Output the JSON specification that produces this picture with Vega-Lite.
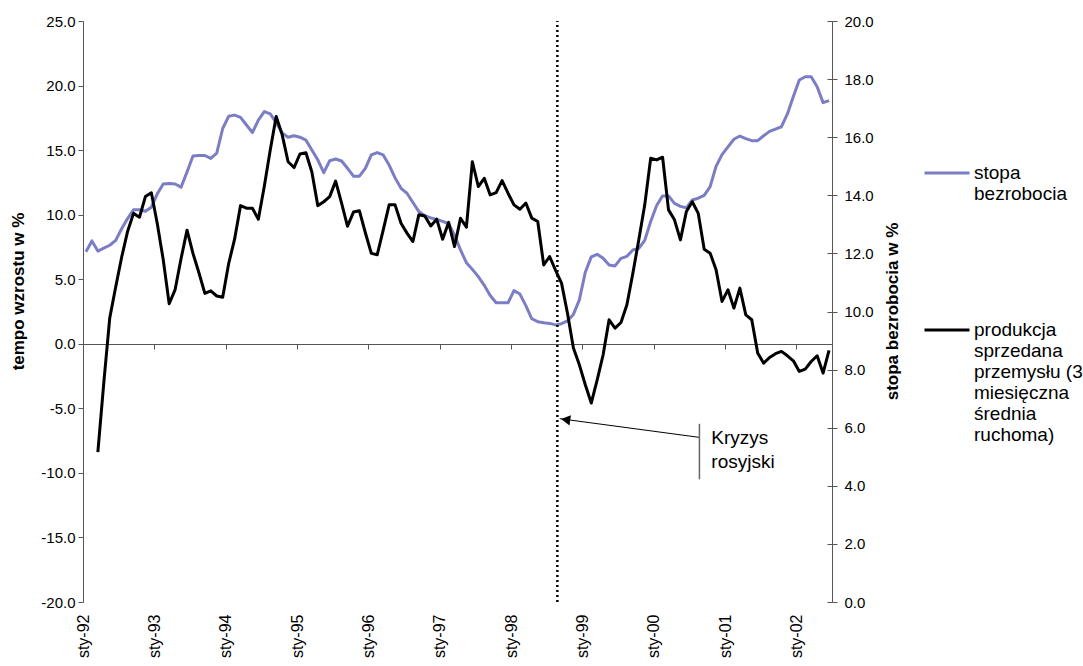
{
  "$schema": "https://vega.github.io/schema/vega-lite/v6.json",
  "width": 749,
  "height": 581,
  "autosize": {"type": "none"},
  "padding": {"left": 83, "top": 21, "right": 251, "bottom": 64},
  "background": "white",
  "config": {
    "font": "Liberation Sans",
    "view": {"stroke": null},
    "axis": {
      "labelFont": "Liberation Sans",
      "labelFontSize": 15,
      "labelColor": "black",
      "titleFont": "Liberation Sans",
      "titleFontSize": 17,
      "titleFontWeight": "bold",
      "titleColor": "black",
      "grid": false,
      "domainColor": "#555555",
      "tickColor": "#555555",
      "domainWidth": 1,
      "tickWidth": 1
    },
    "legend": {
      "orient": "none",
      "legendX": 840,
      "legendY": 128,
      "direction": "vertical",
      "padding": 0,
      "labelFont": "Liberation Sans",
      "labelFontSize": 19,
      "labelColor": "black",
      "labelLineHeight": 23,
      "labelLimit": 300,
      "labelOffset": 3,
      "symbolType": "stroke",
      "symbolSize": 2025,
      "symbolStrokeWidth": 3,
      "rowPadding": 102
    }
  },
  "datasets": {
    "series": [
      {"m": 0, "u": 12.06, "p": null}, {"m": 1, "u": 12.43, "p": null},
      {"m": 2, "u": 12.08, "p": -8.4}, {"m": 3, "u": 12.18, "p": -3.0},
      {"m": 4, "u": 12.28, "p": 2.0}, {"m": 5, "u": 12.45, "p": 4.4},
      {"m": 6, "u": 12.85, "p": 6.7}, {"m": 7, "u": 13.2, "p": 8.7},
      {"m": 8, "u": 13.5, "p": 10.1}, {"m": 9, "u": 13.5, "p": 9.8},
      {"m": 10, "u": 13.45, "p": 11.4}, {"m": 11, "u": 13.59, "p": 11.7},
      {"m": 12, "u": 14.05, "p": 9.3}, {"m": 13, "u": 14.39, "p": 6.5},
      {"m": 14, "u": 14.41, "p": 3.1}, {"m": 15, "u": 14.39, "p": 4.2},
      {"m": 16, "u": 14.28, "p": 6.6}, {"m": 17, "u": 14.8, "p": 8.8},
      {"m": 18, "u": 15.35, "p": 7.0}, {"m": 19, "u": 15.37, "p": 5.5},
      {"m": 20, "u": 15.37, "p": 3.9}, {"m": 21, "u": 15.27, "p": 4.1},
      {"m": 22, "u": 15.45, "p": 3.7}, {"m": 23, "u": 16.3, "p": 3.6},
      {"m": 24, "u": 16.72, "p": 6.2}, {"m": 25, "u": 16.76, "p": 8.1},
      {"m": 26, "u": 16.68, "p": 10.7}, {"m": 27, "u": 16.42, "p": 10.5},
      {"m": 28, "u": 16.16, "p": 10.5}, {"m": 29, "u": 16.59, "p": 9.65},
      {"m": 30, "u": 16.88, "p": 12.2}, {"m": 31, "u": 16.8, "p": 15.0},
      {"m": 32, "u": 16.5, "p": 17.6}, {"m": 33, "u": 16.15, "p": 16.2},
      {"m": 34, "u": 16.0, "p": 14.1}, {"m": 35, "u": 16.05, "p": 13.65},
      {"m": 36, "u": 16.0, "p": 14.7}, {"m": 37, "u": 15.9, "p": 14.8},
      {"m": 38, "u": 15.56, "p": 13.3}, {"m": 39, "u": 15.22, "p": 10.7},
      {"m": 40, "u": 14.78, "p": 11.0}, {"m": 41, "u": 15.19, "p": 11.4},
      {"m": 42, "u": 15.25, "p": 12.6}, {"m": 43, "u": 15.18, "p": 10.9},
      {"m": 44, "u": 14.93, "p": 9.1}, {"m": 45, "u": 14.66, "p": 10.2},
      {"m": 46, "u": 14.66, "p": 10.3}, {"m": 47, "u": 14.93, "p": 8.6},
      {"m": 48, "u": 15.39, "p": 7.0}, {"m": 49, "u": 15.47, "p": 6.9},
      {"m": 50, "u": 15.39, "p": 8.8}, {"m": 51, "u": 15.04, "p": 10.76},
      {"m": 52, "u": 14.6, "p": 10.76}, {"m": 53, "u": 14.24, "p": 9.34},
      {"m": 54, "u": 14.07, "p": 8.57}, {"m": 55, "u": 13.75, "p": 7.92},
      {"m": 56, "u": 13.44, "p": 10.0}, {"m": 57, "u": 13.3, "p": 9.9},
      {"m": 58, "u": 13.22, "p": 9.13}, {"m": 59, "u": 13.17, "p": 9.65},
      {"m": 60, "u": 13.1, "p": 8.1}, {"m": 61, "u": 13.02, "p": 9.4},
      {"m": 62, "u": 12.63, "p": 7.53}, {"m": 63, "u": 12.12, "p": 9.72},
      {"m": 64, "u": 11.68, "p": 9.03}, {"m": 65, "u": 11.45, "p": 14.1},
      {"m": 66, "u": 11.2, "p": 12.18}, {"m": 67, "u": 10.9, "p": 12.82},
      {"m": 68, "u": 10.55, "p": 11.53}, {"m": 69, "u": 10.3, "p": 11.71},
      {"m": 70, "u": 10.3, "p": 12.64}, {"m": 71, "u": 10.3, "p": 11.66},
      {"m": 72, "u": 10.72, "p": 10.76}, {"m": 73, "u": 10.6, "p": 10.42},
      {"m": 74, "u": 10.2, "p": 10.9}, {"m": 75, "u": 9.75, "p": 9.73},
      {"m": 76, "u": 9.65, "p": 9.47}, {"m": 77, "u": 9.61, "p": 6.11},
      {"m": 78, "u": 9.59, "p": 6.76}, {"m": 79, "u": 9.54, "p": 5.68},
      {"m": 80, "u": 9.58, "p": 4.7}, {"m": 81, "u": 9.68, "p": 2.37},
      {"m": 82, "u": 9.9, "p": -0.33}, {"m": 83, "u": 10.4, "p": -1.63},
      {"m": 84, "u": 11.35, "p": -3.17}, {"m": 85, "u": 11.88, "p": -4.59},
      {"m": 86, "u": 11.97, "p": -2.79}, {"m": 87, "u": 11.83, "p": -0.85},
      {"m": 88, "u": 11.6, "p": 1.86}, {"m": 89, "u": 11.57, "p": 1.21},
      {"m": 90, "u": 11.83, "p": 1.65}, {"m": 91, "u": 11.9, "p": 3.02},
      {"m": 92, "u": 12.12, "p": 5.47}, {"m": 93, "u": 12.17, "p": 8.05},
      {"m": 94, "u": 12.45, "p": 10.76}, {"m": 95, "u": 13.1, "p": 14.37},
      {"m": 96, "u": 13.65, "p": 14.24}, {"m": 97, "u": 13.98, "p": 14.45},
      {"m": 98, "u": 13.98, "p": 10.37}, {"m": 99, "u": 13.72, "p": 9.6},
      {"m": 100, "u": 13.62, "p": 8.05}, {"m": 101, "u": 13.57, "p": 10.24},
      {"m": 102, "u": 13.84, "p": 11.0}, {"m": 103, "u": 13.9, "p": 10.1},
      {"m": 104, "u": 14.0, "p": 7.33}, {"m": 105, "u": 14.3, "p": 7.02},
      {"m": 106, "u": 15.0, "p": 5.73}, {"m": 107, "u": 15.4, "p": 3.28},
      {"m": 108, "u": 15.67, "p": 4.18}, {"m": 109, "u": 15.93, "p": 2.76},
      {"m": 110, "u": 16.04, "p": 4.31}, {"m": 111, "u": 15.95, "p": 2.24},
      {"m": 112, "u": 15.88, "p": 1.86}, {"m": 113, "u": 15.88, "p": -0.72},
      {"m": 114, "u": 16.05, "p": -1.5}, {"m": 115, "u": 16.2, "p": -1.06},
      {"m": 116, "u": 16.28, "p": -0.77}, {"m": 117, "u": 16.36, "p": -0.59},
      {"m": 118, "u": 16.8, "p": -0.93}, {"m": 119, "u": 17.4, "p": -1.32},
      {"m": 120, "u": 17.97, "p": -2.14}, {"m": 121, "u": 18.08, "p": -1.96},
      {"m": 122, "u": 18.08, "p": -1.37}, {"m": 123, "u": 17.74, "p": -0.93},
      {"m": 124, "u": 17.19, "p": -2.27}, {"m": 125, "u": 17.26, "p": -0.52}
    ],
    "crisis": [{"m": 79.3}],
    "arrow": [{"m": 79.7, "v": -5.8}, {"m": 103.2, "v": -7.25}],
    "arrowHead": [{"m": 80.7, "v": -5.88}],
    "bracket": [{"m": 103.2, "v": -6.2, "v2": -10.5}],
    "note": [
      {"m": 105.2, "v": -7.3, "t": "Kryzys"},
      {"m": 105.2, "v": -9.15, "t": "rosyjski"}
    ]
  },
  "resolve": {
    "scale": {"y": "independent"},
    "axis": {"x": "independent", "y": "independent"}
  },
  "layer": [
    {
      "data": {"name": "series"},
      "mark": {"type": "line", "strokeWidth": 3, "strokeJoin": "round"},
      "encoding": {
        "x": {
          "field": "m",
          "type": "quantitative",
          "scale": {"domain": [-0.5, 125.5], "nice": false, "zero": false},
          "axis": {
            "orient": "bottom",
            "title": null,
            "domain": false,
            "ticks": false,
            "values": [-0.5, 11.5, 23.5, 35.5, 47.5, 59.5, 71.5, 83.5, 95.5, 107.5, 119.5],
            "labelExpr": "'sty-' + (92 + round((datum.value + 0.5) / 12) >= 100 ? '0' + (92 + round((datum.value + 0.5) / 12) - 100) : '' + (92 + round((datum.value + 0.5) / 12)))",
            "labelFontSize": 16,
            "labelAngle": 270,
            "labelAlign": "right",
            "labelBaseline": "middle",
            "labelPadding": 12,
            "labelFlush": false,
            "labelOverlap": false,
            "labelBound": false
          }
        },
        "y": {
          "field": "u",
          "type": "quantitative",
          "scale": {"domain": [0, 20], "nice": false, "zero": false},
          "axis": {
            "orient": "right",
            "values": [0, 2, 4, 6, 8, 10, 12, 14, 16, 18, 20],
            "format": ".1f",
            "tickSize": 5,
            "labelPadding": 7,
            "title": "stopa bezrobocia w %",
            "titleAngle": 270,
            "titleX": 60,
            "titleY": 290,
            "titleAlign": "center",
            "titleBaseline": "middle"
          }
        },
        "color": {
          "datum": "stopa|bezrobocia",
          "type": "nominal",
          "scale": {
            "domain": ["stopa|bezrobocia", "produkcja|sprzedana|przemysłu (3|miesięczna|średnia|ruchoma)"],
            "range": ["#7b7ec4", "#000000"]
          },
          "legend": {"title": null, "labelExpr": "split(datum.label, '|')"}
        }
      }
    },
    {
      "data": {"name": "series"},
      "mark": {"type": "line", "strokeWidth": 3, "strokeJoin": "round"},
      "encoding": {
        "x": {
          "field": "m",
          "type": "quantitative",
          "scale": {"domain": [-0.5, 125.5], "nice": false, "zero": false},
          "axis": {
            "orient": "bottom",
            "title": null,
            "offset": -258,
            "labels": false,
            "tickSize": 5,
            "values": [11.5, 23.5, 35.5, 47.5, 59.5, 71.5, 83.5, 95.5, 107.5, 119.5]
          }
        },
        "y": {
          "field": "p",
          "type": "quantitative",
          "scale": {"domain": [-20, 25], "nice": false, "zero": false},
          "axis": {
            "orient": "left",
            "values": [-20, -15, -10, -5, 0, 5, 10, 15, 20, 25],
            "labelExpr": "(datum.value < 0 ? '-' : '') + format(abs(datum.value), '.1f')",
            "tickSize": 5,
            "labelPadding": 3,
            "title": "tempo wzrostu w %",
            "titleAngle": 270,
            "titleX": -65,
            "titleY": 270,
            "titleAlign": "center",
            "titleBaseline": "middle"
          }
        },
        "color": {
          "datum": "produkcja|sprzedana|przemysłu (3|miesięczna|średnia|ruchoma)",
          "type": "nominal"
        }
      }
    },
    {
      "data": {"name": "crisis"},
      "mark": {"type": "rule", "color": "#000000", "strokeWidth": 2.5, "strokeDash": [2, 3]},
      "encoding": {
        "x": {"field": "m", "type": "quantitative", "axis": null},
        "y": {
          "datum": 0,
          "type": "quantitative",
          "scale": {"domain": [0, 20], "nice": false, "zero": false},
          "axis": {
            "orient": "right",
            "values": [0, 2, 4, 6, 8, 10, 12, 14, 16, 18, 20],
            "labels": false,
            "domain": false,
            "tickSize": -5,
            "title": null
          }
        },
        "y2": {"datum": 20}
      }
    },
    {
      "data": {"name": "arrow"},
      "mark": {"type": "line", "color": "#000000", "strokeWidth": 1},
      "encoding": {
        "x": {"field": "m", "type": "quantitative", "axis": null},
        "y": {"field": "v", "type": "quantitative", "axis": null, "scale": {"domain": [-20, 25], "nice": false, "zero": false}}
      }
    },
    {
      "data": {"name": "arrowHead"},
      "mark": {"type": "point", "shape": "triangle-left", "filled": true, "color": "#000000", "size": 110, "angle": 8, "opacity": 1},
      "encoding": {
        "x": {"field": "m", "type": "quantitative", "axis": null},
        "y": {"field": "v", "type": "quantitative", "axis": null, "scale": {"domain": [-20, 25], "nice": false, "zero": false}}
      }
    },
    {
      "data": {"name": "bracket"},
      "mark": {"type": "rule", "color": "#666666", "strokeWidth": 1.5},
      "encoding": {
        "x": {"field": "m", "type": "quantitative", "axis": null},
        "y": {"field": "v", "type": "quantitative", "axis": null, "scale": {"domain": [-20, 25], "nice": false, "zero": false}},
        "y2": {"field": "v2"}
      }
    },
    {
      "data": {"name": "note"},
      "mark": {"type": "text", "align": "left", "baseline": "middle", "fontSize": 19, "font": "Liberation Sans", "color": "#000000"},
      "encoding": {
        "x": {"field": "m", "type": "quantitative", "axis": null},
        "y": {"field": "v", "type": "quantitative", "axis": null, "scale": {"domain": [-20, 25], "nice": false, "zero": false}},
        "text": {"field": "t"}
      }
    }
  ]
}
